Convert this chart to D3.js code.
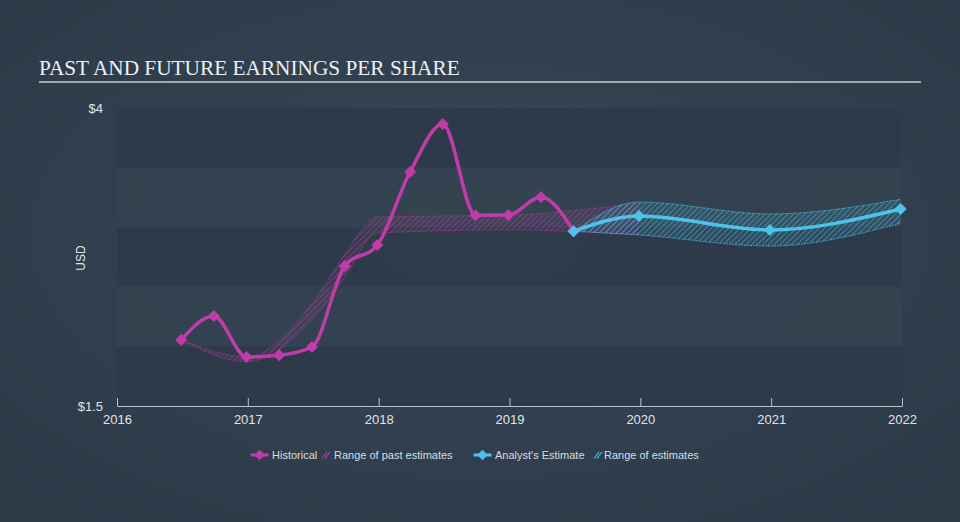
<!DOCTYPE html>
<html><head><meta charset="utf-8">
<script src="https://cdn.jsdelivr.net/npm/d3@7"></script>
<style>html,body{margin:0;padding:0;background:#2f3d4c;}svg{display:block;}</style>
</head><body>
<svg id="chart" width="960" height="522"></svg>
<script>
// ---- data ----
const histDates = [2016.49, 2016.74, 2016.99, 2017.24, 2017.49, 2017.74, 2017.99, 2018.24, 2018.49, 2018.74, 2018.99, 2019.24, 2019.49];
const histEPS   = [2.054, 2.255, 1.911, 1.926, 1.995, 2.674, 2.851, 3.463, 3.866, 3.100, 3.102, 3.253, 2.966];
const pastRangeDates = [2016.49, 2016.99, 2017.49, 2017.74, 2017.99, 2018.99, 2019.99];
const pastRangeLow   = [2.054, 1.872, 2.22, 2.58, 2.951, 2.977, 2.935];
const pastRangeHigh  = [2.054, 1.914, 2.36, 2.77, 3.086, 3.102, 3.203];
const estDates = [2019.49, 2019.99, 2020.99, 2021.99];
const estEPS   = [2.966, 3.094, 2.977, 3.153];
const estLow   = [2.966, 2.935, 2.842, 3.033];
const estHigh  = [2.966, 3.211, 3.111, 3.234];
const xTicks = [2016, 2017, 2018, 2019, 2020, 2021, 2022];
const yTicks = [1.5, 4];
const yTickLabels = ["$1.5", "$4"];
const bandEdges = [1.5, 2, 2.5, 3, 3.5, 4];

const svg = d3.select("#chart");
const W = 960, H = 522;
const defs = svg.append("defs");
const bg = defs.append("radialGradient").attr("id","bg").attr("cx","50%").attr("cy","45%").attr("r","70%");
bg.append("stop").attr("offset","0%").attr("stop-color","#374757");
bg.append("stop").attr("offset","100%").attr("stop-color","#2c3947");
svg.append("rect").attr("width",W).attr("height",H).attr("fill","url(#bg)");

function hatch(id, color, fillOp, lineOp){
  const p = defs.append("pattern").attr("id",id).attr("patternUnits","userSpaceOnUse")
    .attr("width",4).attr("height",4).attr("patternTransform","rotate(45)");
  p.append("rect").attr("width",4).attr("height",4).attr("fill",color).attr("fill-opacity",fillOp);
  p.append("line").attr("x1",0).attr("y1",0).attr("x2",0).attr("y2",4)
    .attr("stroke",color).attr("stroke-width",1.6).attr("stroke-opacity",lineOp);
}
hatch("hatchPast","#c13ca8",0.08,0.55);
hatch("hatchEst","#4cc3e8",0.12,0.6);

const x = d3.scaleLinear().domain([2016, 2022]).range([117, 902]);
const y = d3.scaleLinear().domain([1.5, 4]).range([406, 108]);

// bands
const g = svg.append("g");
for (let i = 0; i < bandEdges.length - 1; i++) {
  g.append("rect").attr("x", x(2016)).attr("width", x(2022) - x(2016))
    .attr("y", y(bandEdges[i+1])).attr("height", y(bandEdges[i]) - y(bandEdges[i+1]))
    .attr("fill", i % 2 === 0 ? "#2d3a49" : "#334250").attr("fill-opacity", 0.9);
}

// title
svg.append("text").attr("x",39).attr("y",75).text("PAST AND FUTURE EARNINGS PER SHARE")
  .attr("font-family","'Liberation Serif', 'DejaVu Serif', serif").attr("font-size",21.3)
  .attr("fill","#eef0f2");
svg.append("line").attr("x1",39).attr("x2",921).attr("y1",82).attr("y2",82)
  .attr("stroke","#a3a8ad").attr("stroke-width",2);

// axes
const xAxis = d3.axisBottom(x).tickValues(xTicks).tickFormat(d3.format("d")).tickSize(8).tickSizeOuter(0);
const ax = svg.append("g").attr("transform",`translate(0,${y(1.5)})`).call(xAxis);
ax.select(".domain").attr("stroke","#b8c2cc").attr("stroke-width",1);
ax.selectAll(".tick line").attr("stroke","#b8c2cc").attr("y1",0).attr("y2",-8);
ax.selectAll(".tick text").attr("y",9).attr("fill","#e0e4e8").attr("font-size",13)
  .attr("font-family","'Liberation Sans Narrow','Liberation Sans',Arial,sans-serif");

svg.selectAll(".ylab").data(yTicks).enter().append("text")
  .attr("x",103).attr("y",d=>y(d)+5).attr("text-anchor","end")
  .attr("fill","#e0e4e8").attr("font-size",13)
  .attr("font-family","'Liberation Sans',Arial,sans-serif")
  .text((d,i)=>yTickLabels[i]);
svg.append("text").attr("transform","translate(85,258) rotate(-90)").attr("text-anchor","middle")
  .attr("fill","#e0e4e8").attr("font-size",12).attr("font-family","'Liberation Sans',Arial,sans-serif").text("USD");

// ranges
const area = d3.area().curve(d3.curveMonotoneX).x(d=>x(d.t)).y0(d=>y(d.lo)).y1(d=>y(d.hi));
const lineLo = d3.line().curve(d3.curveMonotoneX).x(d=>x(d.t)).y(d=>y(d.lo));
const lineHi = d3.line().curve(d3.curveMonotoneX).x(d=>x(d.t)).y(d=>y(d.hi));
const past = pastRangeDates.map((t,i)=>({t, lo: pastRangeLow[i], hi: pastRangeHigh[i]}));
const est = estDates.map((t,i)=>({t, lo: estLow[i], hi: estHigh[i]}));
svg.append("path").datum(past).attr("d",area).attr("fill","url(#hatchPast)");
[lineLo,lineHi].forEach(l=>svg.append("path").datum(past).attr("d",l).attr("fill","none")
  .attr("stroke","#c13ca8").attr("stroke-opacity",0.5).attr("stroke-width",1).attr("stroke-dasharray","2,1"));
svg.append("path").datum(est).attr("d",area).attr("fill","url(#hatchEst)");
[lineLo,lineHi].forEach(l=>svg.append("path").datum(est).attr("d",l).attr("fill","none")
  .attr("stroke","#4cc3e8").attr("stroke-opacity",0.7).attr("stroke-width",1).attr("stroke-dasharray","2,1"));

// lines
const line = d3.line().curve(d3.curveMonotoneX).x(d=>x(d[0])).y(d=>y(d[1]));
const hist = histDates.map((t,i)=>[t, histEPS[i]]);
const estL = estDates.map((t,i)=>[t, estEPS[i]]);
svg.append("path").datum(hist).attr("d",line).attr("fill","none").attr("stroke","#c13ca8").attr("stroke-width",3.5);
svg.append("path").datum(estL).attr("d",line).attr("fill","none").attr("stroke","#4cc3e8").attr("stroke-width",3.5);

const diamond = d3.symbol().type(d3.symbolDiamond2).size(90);
svg.selectAll(".hd").data(hist).enter().append("path")
  .attr("d",diamond).attr("transform",d=>`translate(${x(d[0])},${y(d[1])})`).attr("fill","#c13ca8");
svg.selectAll(".ed").data(estL).enter().append("path")
  .attr("d",diamond).attr("transform",d=>`translate(${x(d[0])},${y(d[1])})`).attr("fill","#4cc3e8");

// legend
const lg = svg.append("g").attr("font-family","'Liberation Sans',Arial,sans-serif").attr("font-size",11).attr("fill","#d8dde2");
function legLine(cx, color){
  lg.append("line").attr("x1",cx-9).attr("x2",cx+9).attr("y1",455).attr("y2",455).attr("stroke",color).attr("stroke-width",3);
  lg.append("path").attr("d",d3.symbol().type(d3.symbolDiamond2).size(70)).attr("transform",`translate(${cx},455)`).attr("fill",color);
}
function legHatch(x0, color){
  for (let k=0;k<2;k++) lg.append("line").attr("x1",x0+k*3).attr("y1",458.5).attr("x2",x0+k*3+5).attr("y2",452)
    .attr("stroke",color).attr("stroke-width",1.2);
}
legLine(259.5,"#c13ca8");
lg.append("text").attr("x",272).attr("y",459).text("Historical");
legHatch(322,"#c13ca8");
lg.append("text").attr("x",334).attr("y",459).text("Range of past estimates");
legLine(482.5,"#4cc3e8");
lg.append("text").attr("x",495).attr("y",459).text("Analyst's Estimate");
legHatch(594,"#4cc3e8");
lg.append("text").attr("x",604).attr("y",459).text("Range of estimates");
</script>
</body></html>
